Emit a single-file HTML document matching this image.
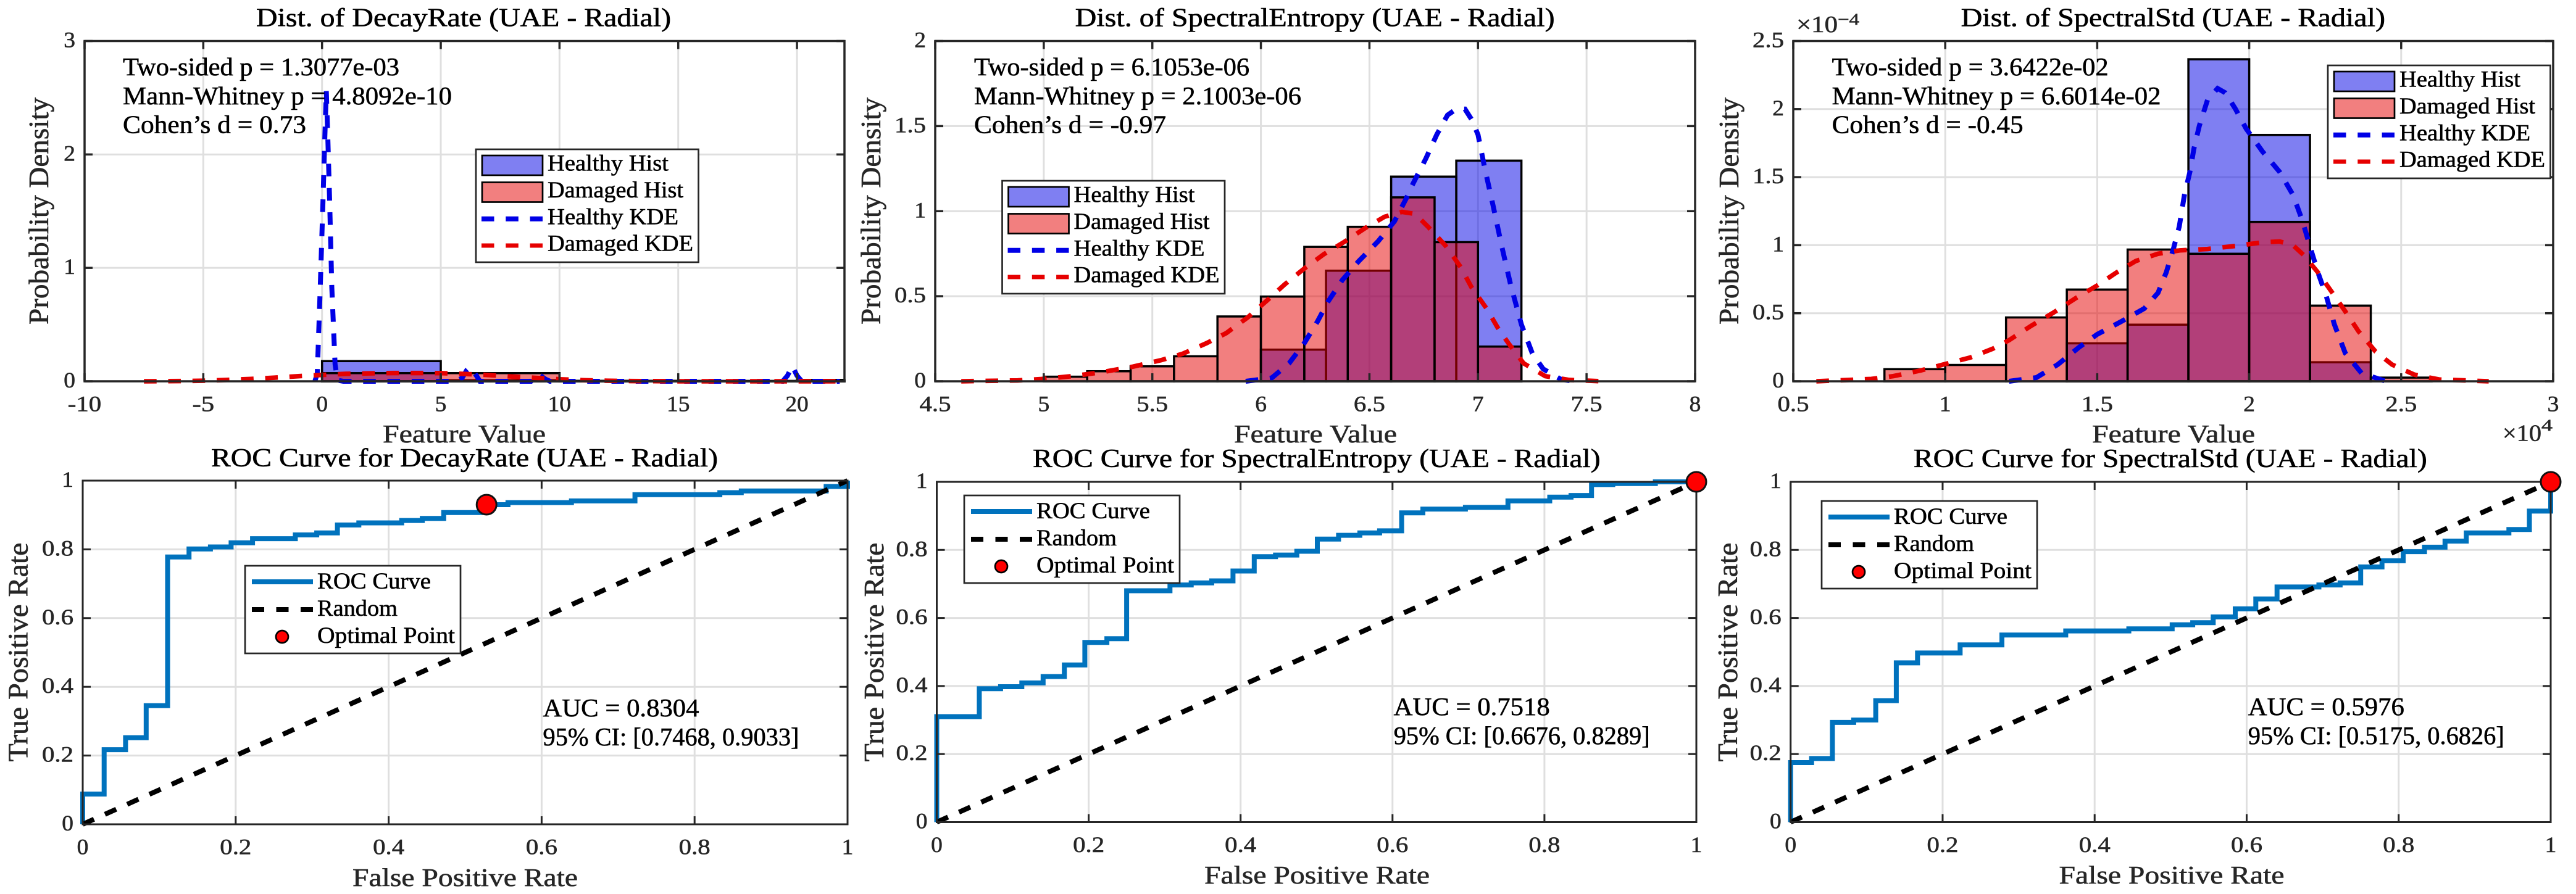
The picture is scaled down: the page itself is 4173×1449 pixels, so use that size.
<!DOCTYPE html>
<html lang="en">
<head>
<meta charset="utf-8">
<title>Feature distributions and ROC curves (UAE - Radial)</title>
<style>
html,body{margin:0;padding:0;background:#fff;width:4173px;height:1449px;overflow:hidden}
svg{display:block}
text{font-family:"Liberation Serif",serif;stroke-width:.6px;white-space:pre}
</style>
</head>
<body>
<svg id="fig" xmlns="http://www.w3.org/2000/svg" width="4173" height="1449" viewBox="0 0 4173 1449"></svg>
<script>
/* ---------- tick data ---------- */
const decayXTicks = [-10,-5,0,5,10,15,20];
const decayXTickLabels = ['-10','-5','0','5','10','15','20'];
const decayYTicks = [0,1,2,3];
const decayYTickLabels = ['0','1','2','3'];
const entropyXTicks = [4.5,5,5.5,6,6.5,7,7.5,8];
const entropyXTickLabels = ['4.5','5','5.5','6','6.5','7','7.5','8'];
const entropyYTicks = [0,0.5,1,1.5,2];
const entropyYTickLabels = ['0','0.5','1','1.5','2'];
const stdXTicks = [0.5,1,1.5,2,2.5,3];
const stdXTickLabels = ['0.5','1','1.5','2','2.5','3'];
const stdYTicks = [0,0.5,1,1.5,2,2.5];
const stdYTickLabels = ['0','0.5','1','1.5','2','2.5'];
const rocTicks = [0,0.2,0.4,0.6,0.8,1];
const rocTickLabels = ['0','0.2','0.4','0.6','0.8','1'];

/* ---------- DecayRate histogram + KDE ---------- */
const decayHealthyEdges = [0,5,10,15,20,25];
const decayHealthyDensity = [0.178,0.01,0.003,0.003,0.012];
const decayDamagedEdges = [0,5,10,15,20,25];
const decayDamagedDensity = [0.072,0.072,0.004,0.002,0.002];
const decayHealthyKdeX = [-0.3,-0.2,-0.076,0.04,0.11,0.18,0.25,0.32,0.41,0.55,0.65,0.9,5.65,5.9,6.1,6.2,6.3,6.5,6.65,8.8,9.1,9.4,9.6,19.4,19.6,19.8,20,20.2,21.8];
const decayHealthyKdeY = [0,0.07,0.83,1.59,2.1,2.56,2.1,1.59,0.83,0.15,0.01,0,0,0.03,0.1,0.12,0.11,0.05,0,0,0.065,0.02,0,0,0.05,0.135,0.05,0,0];
const decayDamagedKdeX = [-7.5,-6,-5,-4,-3,-2,-1,0,1,2,3,4,5,6,7,8,9,10,11,12,13,14,15,21.8];
const decayDamagedKdeY = [0,0.002,0.005,0.012,0.02,0.032,0.045,0.056,0.066,0.07,0.073,0.073,0.072,0.065,0.055,0.042,0.03,0.018,0.01,0.005,0.002,0.001,0,0];

/* ---------- SpectralEntropy histogram + KDE ---------- */
const entropyHealthyEdges = [6,6.3,6.6,6.9,7.2];
const entropyHealthyDensity = [0.186,0.65,1.203,1.297];
const entropyDamagedEdges = [5,5.2,5.4,5.6,5.8,6,6.2,6.4,6.6,6.8,7,7.2];
const entropyDamagedDensity = [0.027,0.059,0.088,0.147,0.381,0.498,0.79,0.908,1.081,0.818,0.204];
const entropyHealthyKdeX = [5.93,6.05,6.13,6.2,6.26,6.31,6.375,6.45,6.54,6.615,6.67,6.7,6.76,6.81,6.86,6.9,6.94,6.97,7,7.03,7.07,7.11,7.15,7.2,7.25,7.3,7.38,7.44];
const entropyHealthyKdeY = [0,0.02,0.106,0.224,0.35,0.47,0.595,0.705,0.823,0.94,1.076,1.16,1.31,1.45,1.565,1.6,1.6,1.54,1.45,1.26,1.03,0.79,0.57,0.334,0.165,0.073,0.013,0];
const entropyDamagedKdeX = [4.62,4.88,4.99,5.13,5.26,5.41,5.54,5.64,5.75,5.84,5.94,6.03,6.11,6.2,6.29,6.38,6.48,6.57,6.65,6.71,6.77,6.85,6.92,6.97,7.04,7.09,7.14,7.21,7.31,7.42,7.57];
const entropyDamagedKdeY = [0,0.005,0.013,0.03,0.052,0.086,0.124,0.162,0.224,0.283,0.376,0.477,0.57,0.663,0.747,0.816,0.9,0.967,0.996,0.984,0.908,0.798,0.672,0.553,0.427,0.317,0.224,0.106,0.03,0.008,0];

/* ---------- SpectralStd histogram + KDE (x in 1e4, y in 1e-4) ---------- */
const stdHealthyEdges = [1.4,1.6,1.8,2,2.2,2.4];
const stdHealthyDensity = [0.279,0.416,2.366,1.81,0.14];
const stdDamagedEdges = [0.8,1,1.2,1.4,1.6,1.8,2,2.2,2.4,2.6];
const stdDamagedDensity = [0.089,0.12,0.469,0.674,0.968,0.937,1.171,0.556,0.027];
const stdHealthyKdeX = [1.21,1.3,1.37,1.44,1.5,1.58,1.655,1.7,1.727,1.75,1.77,1.787,1.805,1.818,1.836,1.863,1.896,1.921,1.954,1.99,2.044,2.1,2.144,2.175,2.2,2.226,2.253,2.28,2.316,2.37,2.45];
const stdHealthyKdeY = [0,0.027,0.123,0.25,0.345,0.44,0.535,0.65,0.8,0.968,1.137,1.37,1.54,1.708,1.877,2.068,2.152,2.12,2.004,1.856,1.687,1.539,1.37,1.18,0.989,0.8,0.63,0.419,0.207,0.059,0];
const stdDamagedKdeX = [0.576,0.757,0.83,0.92,0.993,1.083,1.156,1.21,1.283,1.355,1.428,1.5,1.564,1.627,1.7,1.772,1.863,1.954,2.044,2.1,2.144,2.18,2.226,2.27,2.316,2.36,2.416,2.47,2.543,2.625,2.788];
const stdDamagedKdeY = [0,0.017,0.038,0.08,0.123,0.175,0.239,0.302,0.408,0.503,0.609,0.704,0.8,0.884,0.937,0.962,0.972,0.994,1.021,1.027,1,0.926,0.8,0.662,0.514,0.366,0.218,0.123,0.049,0.013,0];

/* ---------- ROC data: FPR at each vertical step and the TPR reached there ---------- */
const decayRocFpr = [0,0.028,0.056,0.083,0.111,0.139,0.167,0.194,0.222,0.278,0.306,0.333,0.361,0.417,0.444,0.472,0.528,0.556,0.639,0.722,0.833,0.861,0.972,1];
const decayRocTpr = [0.088,0.217,0.252,0.345,0.778,0.801,0.807,0.819,0.831,0.842,0.848,0.871,0.877,0.884,0.89,0.907,0.93,0.936,0.941,0.959,0.965,0.97,0.983,1];
const decayOptimalFpr = [0.528];
const decayOptimalTpr = [0.93];
const entropyRocFpr = [0,0.056,0.084,0.112,0.14,0.168,0.195,0.224,0.25,0.307,0.335,0.362,0.39,0.418,0.446,0.474,0.501,0.529,0.557,0.583,0.612,0.64,0.696,0.752,0.807,0.835,0.862,0.89,0.946,1];
const entropyRocTpr = [0.31,0.392,0.398,0.409,0.428,0.462,0.528,0.539,0.68,0.697,0.703,0.709,0.738,0.78,0.785,0.796,0.832,0.843,0.85,0.856,0.909,0.92,0.925,0.944,0.955,0.96,0.992,0.995,1,1];
const entropyOptimalFpr = [1];
const entropyOptimalTpr = [1];
const stdRocFpr = [0,0.0276,0.055,0.083,0.112,0.139,0.167,0.223,0.278,0.362,0.445,0.502,0.529,0.556,0.585,0.612,0.64,0.695,0.723,0.75,0.778,0.806,0.834,0.861,0.889,0.945,0.972,1];
const stdRocTpr = [0.175,0.187,0.293,0.3,0.357,0.468,0.497,0.521,0.55,0.562,0.568,0.58,0.586,0.603,0.627,0.656,0.691,0.697,0.703,0.75,0.768,0.795,0.808,0.826,0.85,0.86,0.914,1];
const stdOptimalFpr = [1];
const stdOptimalTpr = [1];
const randomX = [0,1];
const randomY = [0,1];

/* ---------- colours ---------- */
const AX='#262626', GRID='#dfdfdf', BLUE='rgb(0,0,230)', RED='rgb(230,0,0)', ROC='#0072BD';
const svg=document.getElementById('fig');
const NS='http://www.w3.org/2000/svg';

function make(tag,attrs,parent){
  const e=document.createElementNS(NS,tag);
  for(const k in attrs) e.setAttribute(k,attrs[k]);
  parent.appendChild(e);
  return e;
}
function addText(parent,str,x,y,size,width,color,name){
  const t=make('text',{x:x,y:y,'font-size':size,fill:color,stroke:color,textLength:width,lengthAdjust:'spacingAndGlyphs'},parent);
  t.textContent=str;
  
  
  return t;
}
function addRotatedText(parent,str,x,cy,size,len,color,name){
  const t=make('text',{x:0,y:0,'font-size':size,fill:color,stroke:color,textLength:len,lengthAdjust:'spacingAndGlyphs',
    transform:'translate('+x+','+(cy+len/2)+') rotate(-90)'},parent);
  t.textContent=str;
  
  
  return t;
}
function tickWidth(s){
  let w=0;
  for(const c of s) w+= c==='.'?13.6:(c==='-'?17:18.7);
  return w;
}
function drawAxes(p,g){
  const sx=v=>p.box.l+(v-p.xLim[0])/(p.xLim[1]-p.xLim[0])*(p.box.r-p.box.l);
  const sy=v=>p.box.b-(v-p.yLim[0])/(p.yLim[1]-p.yLim[0])*(p.box.b-p.box.t);
  p.sx=sx;p.sy=sy;
  make('rect',{x:p.box.l,y:p.box.t,width:p.box.r-p.box.l,height:p.box.b-p.box.t,fill:'#fff'},g);
  p.xTicks.forEach(v=>{
    const l=make('line',{x1:sx(v),x2:sx(v),y1:p.box.t,y2:p.box.b,stroke:GRID,'stroke-width':3},g);
    
    
  });
  p.yTicks.forEach(v=>{
    const l=make('line',{x1:p.box.l,x2:p.box.r,y1:sy(v),y2:sy(v),stroke:GRID,'stroke-width':3},g);
    
    
  });
}
function drawFrame(p,g){
  const sx=p.sx,sy=p.sy,w=p.axisWidth;
  const f=make('rect',{x:p.box.l,y:p.box.t,width:p.box.r-p.box.l,height:p.box.b-p.box.t,fill:'none',stroke:AX,'stroke-width':w},g);
  
  
  p.xTicks.forEach((v,i)=>{
    [[p.box.b,p.box.b-13],[p.box.t,p.box.t+13]].forEach(y=>{
      const l=make('line',{x1:sx(v),x2:sx(v),y1:y[0],y2:y[1],stroke:AX,'stroke-width':w},g);
      
      
    });
    const s=p.xTickLabels[i],tw=tickWidth(s);
    addText(g,s,sx(v)-tw/2,p.box.b+48.5,36,tw,AX,'x-tick-label');
  });
  p.yTicks.forEach((v,i)=>{
    [[p.box.l,p.box.l+13],[p.box.r,p.box.r-13]].forEach(x=>{
      const l=make('line',{x1:x[0],x2:x[1],y1:sy(v),y2:sy(v),stroke:AX,'stroke-width':w},g);
      
      
    });
    const s=p.yTickLabels[i],tw=tickWidth(s);
    addText(g,s,p.box.l-15-tw,sy(v)+10,36,tw,AX,'y-tick-label');
  });
}
function drawBars(p,g,edges,density,color,name){
  density.forEach((d,i)=>{
    const x0=p.sx(edges[i]),x1=p.sx(Math.min(edges[i+1],p.xLim[1]));
    const r=make('rect',{x:x0,y:p.sy(d),width:x1-x0,height:p.sy(0)-p.sy(d),fill:color,'fill-opacity':0.5,stroke:'#000','stroke-width':3.5},g);
    
    
  });
}
function polyPoints(p,xs,ys){
  return xs.map((x,i)=>p.sx(x).toFixed(1)+','+p.sy(ys[i]).toFixed(1)).join(' ');
}
function drawDashed(p,g,xs,ys,color,width,name){
  const l=make('polyline',{points:polyPoints(p,xs,ys),fill:'none',stroke:color,'stroke-width':width,'stroke-dasharray':'20.5 18.8','stroke-linejoin':'miter'},g);
  
  
}
function drawHistLegend(g,l,t){
  const leg=make('g',{},g);
  
  
  make('rect',{x:l,y:t,width:360.5,height:183,fill:'#fff',stroke:AX,'stroke-width':2.7},leg);
  const hs=make('rect',{x:l+10,y:t+10,width:98,height:32,fill:BLUE,'fill-opacity':.5,stroke:'#000','stroke-width':2.7},leg);
  
  
  const ds=make('rect',{x:l+10,y:t+53.5,width:98,height:32,fill:RED,'fill-opacity':.5,stroke:'#000','stroke-width':2.7},leg);
  
  
  const hk=make('line',{x1:l+9,x2:l+108,y1:t+112.7,y2:t+112.7,stroke:BLUE,'stroke-width':8,'stroke-dasharray':'20.5 18.8'},leg);
  
  
  const dk=make('line',{x1:l+9,x2:l+108,y1:t+156,y2:t+156,stroke:RED,'stroke-width':7,'stroke-dasharray':'20.5 18.8'},leg);
  
  
  addText(leg,'Healthy Hist',l+116,t+34.7,37,196,'#000','legend-label-healthy-hist');
  addText(leg,'Damaged Hist',l+116,t+78,37,220,'#000','legend-label-damaged-hist');
  addText(leg,'Healthy KDE',l+116,t+121.3,37,212,'#000','legend-label-healthy-kde');
  addText(leg,'Damaged KDE',l+116,t+164.7,37,236,'#000','legend-label-damaged-kde');
}
function drawRocLegend(g,l,t){
  const leg=make('g',{},g);
  
  
  make('rect',{x:l,y:t,width:349,height:142,fill:'#fff',stroke:AX,'stroke-width':2.7},leg);
  const a=make('line',{x1:l+11,x2:l+110,y1:t+26,y2:t+26,stroke:ROC,'stroke-width':8},leg);
  
  
  const b=make('line',{x1:l+11,x2:l+110,y1:t+71,y2:t+71,stroke:'#000','stroke-width':8,'stroke-dasharray':'20 19.5'},leg);
  
  
  const c=make('circle',{cx:l+60,cy:t+115,r:10,fill:'#f00',stroke:'#000','stroke-width':2.7},leg);
  
  
  addText(leg,'ROC Curve',l+117,t+37,37,184,'#000','legend-label-roc');
  addText(leg,'Random',l+117,t+81,37,130,'#000','legend-label-random');
  addText(leg,'Optimal Point',l+117,t+125,37,223,'#000','legend-label-optimal');
}
function drawHistPanel(p){
  const g=make('g',{},svg);
  
  
  drawAxes(p,g);
  drawBars(p,g,p.hEdges,p.hDensity,BLUE,'bar-healthy');
  drawBars(p,g,p.dEdges,p.dDensity,RED,'bar-damaged');
  drawDashed(p,g,p.hKdeX,p.hKdeY,BLUE,8,'kde-line-healthy');
  drawDashed(p,g,p.dKdeX,p.dKdeY,RED,7.5,'kde-line-damaged');
  drawFrame(p,g);
  addText(g,p.title,p.titleX,42.7,42,p.titleW,'#000','chart-title');
  addText(g,'Feature Value',p.xLabelX,717,41,264,AX,'x-axis-title');
  addRotatedText(g,'Probability Density',p.yLabelX,342,45,368,AX,'y-axis-title');
  addText(g,p.stats[0],p.statsX,122,41,p.statsW[0],'#000','stat-two-sided-p');
  addText(g,p.stats[1],p.statsX,169,41,p.statsW[1],'#000','stat-mann-whitney-p');
  addText(g,p.stats[2],p.statsX,215.5,41,p.statsW[2],'#000','stat-cohens-d');
  drawHistLegend(g,p.legendX,p.legendY);
}
function drawRocPanel(p){
  const g=make('g',{},svg);
  
  
  drawAxes(p,g);
  const xs=[0],ys=[0];
  p.fpr.forEach((f,i)=>{
    xs.push(f);ys.push(i?p.tpr[i-1]:0);
    xs.push(f);ys.push(p.tpr[i]);
  });
  const c=make('polyline',{points:polyPoints(p,xs,ys),fill:'none',stroke:ROC,'stroke-width':8,'stroke-linejoin':'miter'},g);
  
  
  const d=make('polyline',{points:polyPoints(p,randomX,randomY),fill:'none',stroke:'#000','stroke-width':8,'stroke-dasharray':'20 19.5'},g);
  
  
  drawFrame(p,g);
  p.optFpr.forEach((f,i)=>{
    const m=make('circle',{cx:p.sx(f),cy:p.sy(p.optTpr[i]),r:16,fill:'#f00',stroke:'#111','stroke-width':3},g);
    
    
  });
  addText(g,p.title,p.titleX,p.titleY,42,p.titleW,'#000','chart-title');
  addText(g,'False Positive Rate',p.xLabelX,p.xLabelY,41,365,AX,'x-axis-title');
  addRotatedText(g,'True Positive Rate',p.yLabelX,1057,45,355,AX,'y-axis-title');
  addText(g,p.auc,p.statsX,p.statsY,41,253,'#000','auc-value');
  addText(g,p.ci,p.statsX,p.statsY+47,41,415,'#000','auc-confidence-interval');
  drawRocLegend(g,p.legendX,p.legendY);
}

drawHistPanel({id:'decay-rate',box:{l:137,r:1368,t:66.5,b:618},xLim:[-10,22],yLim:[0,3],axisWidth:3.5,
  xTicks:decayXTicks,xTickLabels:decayXTickLabels,yTicks:decayYTicks,yTickLabels:decayYTickLabels,
  hEdges:decayHealthyEdges,hDensity:decayHealthyDensity,dEdges:decayDamagedEdges,dDensity:decayDamagedDensity,
  hKdeX:decayHealthyKdeX,hKdeY:decayHealthyKdeY,dKdeX:decayDamagedKdeX,dKdeY:decayDamagedKdeY,
  title:'Dist. of DecayRate (UAE - Radial)',titleX:415,titleW:672,xLabelX:620,yLabelX:78,
  stats:['Two-sided p = 1.3077e-03','Mann-Whitney p = 4.8092e-10','Cohen\u2019s d = 0.73'],statsX:199,statsW:[448,533,297],
  legendX:771,legendY:242});
drawHistPanel({id:'spectral-entropy',box:{l:1515,r:2746,t:66.5,b:618},xLim:[4.5,8],yLim:[0,2],axisWidth:3.5,
  xTicks:entropyXTicks,xTickLabels:entropyXTickLabels,yTicks:entropyYTicks,yTickLabels:entropyYTickLabels,
  hEdges:entropyHealthyEdges,hDensity:entropyHealthyDensity,dEdges:entropyDamagedEdges,dDensity:entropyDamagedDensity,
  hKdeX:entropyHealthyKdeX,hKdeY:entropyHealthyKdeY,dKdeX:entropyDamagedKdeX,dKdeY:entropyDamagedKdeY,
  title:'Dist. of SpectralEntropy (UAE - Radial)',titleX:1741.6,titleW:777,xLabelX:1999,yLabelX:1426,
  stats:['Two-sided p = 6.1053e-06','Mann-Whitney p = 2.1003e-06','Cohen\u2019s d = -0.97'],statsX:1578,statsW:[446,530,311],
  legendX:1623.5,legendY:293});
drawHistPanel({id:'spectral-std',box:{l:2905,r:4136,t:66.5,b:618},xLim:[0.5,3],yLim:[0,2.5],axisWidth:3.5,
  xTicks:stdXTicks,xTickLabels:stdXTickLabels,yTicks:stdYTicks,yTickLabels:stdYTickLabels,
  hEdges:stdHealthyEdges,hDensity:stdHealthyDensity,dEdges:stdDamagedEdges,dDensity:stdDamagedDensity,
  hKdeX:stdHealthyKdeX,hKdeY:stdHealthyKdeY,dKdeX:stdDamagedKdeX,dKdeY:stdDamagedKdeY,
  title:'Dist. of SpectralStd (UAE - Radial)',titleX:3176.6,titleW:687.5,xLabelX:3389,yLabelX:2816,
  stats:['Two-sided p = 3.6422e-02','Mann-Whitney p = 6.6014e-02','Cohen\u2019s d = -0.45'],statsX:2967.6,statsW:[448,533,310],
  legendX:3771,legendY:106});

const expGroup=make('g',{},svg);


addText(expGroup,'\u00d710',2910,52,38,67,AX,'y-axis-exponent');
addText(expGroup,'\u22124',2977,40,26,35,AX,'y-axis-exponent-power');
addText(expGroup,'\u00d710',4054,714.6,38,63,AX,'x-axis-exponent');
addText(expGroup,'4',4117,698,26,18,AX,'x-axis-exponent-power');

drawRocPanel({id:'decay-rate',box:{l:134,r:1373,t:779,b:1336},xLim:[0,1],yLim:[0,1],axisWidth:3,
  xTicks:rocTicks,xTickLabels:rocTickLabels,yTicks:rocTicks,yTickLabels:rocTickLabels,
  fpr:decayRocFpr,tpr:decayRocTpr,optFpr:decayOptimalFpr,optTpr:decayOptimalTpr,
  title:'ROC Curve for DecayRate (UAE - Radial)',titleX:342,titleY:756,titleW:821,
  xLabelX:571,xLabelY:1436,yLabelX:44.6,
  auc:'AUC = 0.8304',ci:'95% CI: [0.7468, 0.9033]',statsX:879.5,statsY:1161,legendX:397,legendY:917});
drawRocPanel({id:'spectral-entropy',box:{l:1517.5,r:2748,t:781,b:1332.5},xLim:[0,1],yLim:[0,1],axisWidth:3,
  xTicks:rocTicks,xTickLabels:rocTickLabels,yTicks:rocTicks,yTickLabels:rocTickLabels,
  fpr:entropyRocFpr,tpr:entropyRocTpr,optFpr:entropyOptimalFpr,optTpr:entropyOptimalTpr,
  title:'ROC Curve for SpectralEntropy (UAE - Radial)',titleX:1673,titleY:757,titleW:919.6,
  xLabelX:1951,xLabelY:1432,yLabelX:1431,
  auc:'AUC = 0.7518',ci:'95% CI: [0.6676, 0.8289]',statsX:2257.7,statsY:1159,legendX:1562,legendY:803});
drawRocPanel({id:'spectral-std',box:{l:2900.7,r:4132,t:781,b:1332.5},xLim:[0,1],yLim:[0,1],axisWidth:3,
  xTicks:rocTicks,xTickLabels:rocTickLabels,yTicks:rocTicks,yTickLabels:rocTickLabels,
  fpr:stdRocFpr,tpr:stdRocTpr,optFpr:stdOptimalFpr,optTpr:stdOptimalTpr,
  title:'ROC Curve for SpectralStd (UAE - Radial)',titleX:3099.8,titleY:757,titleW:832,
  xLabelX:3335.5,xLabelY:1432,yLabelX:2814,
  auc:'AUC = 0.5976',ci:'95% CI: [0.5175, 0.6826]',statsX:3641.8,statsY:1159,legendX:2951,legendY:812});
</script>
</body>
</html>
